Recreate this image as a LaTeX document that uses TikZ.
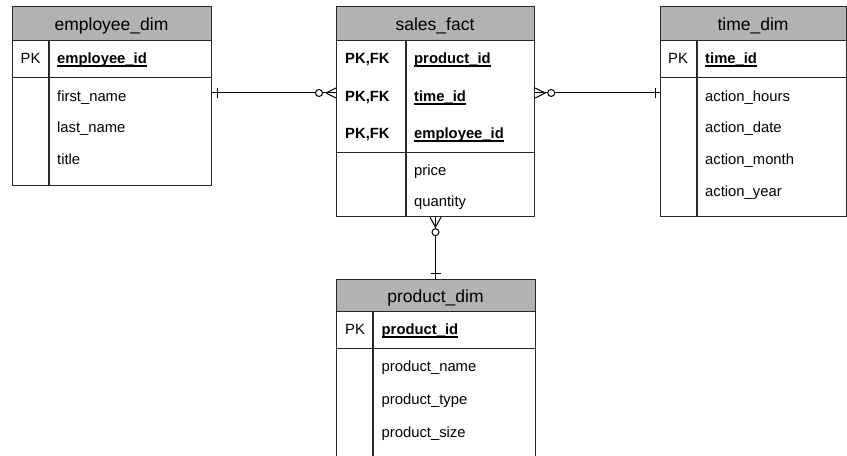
\documentclass[tikz,border=0pt]{standalone}
\usepackage{fontspec}
\setmainfont{Liberation Sans}
\usetikzlibrary{calc}
\definecolor{hdrgray}{RGB}{178,178,178}
\definecolor{edgecol}{RGB}{40,40,40}
% bold key field with an underline that merges with the underscore
\newcommand{\keyfield}[1]{\setbox0\hbox{\bfseries #1}\rlap{\rule[-2.6bp]{\wd0}{1.1bp}}\box0}
\begin{document}
\begin{tikzpicture}[x=1bp,y=-1bp,
  box/.style={draw=edgecol, line width=1.2bp, rectangle, inner sep=0pt, anchor=north west},
  hdr/.style={box, fill=hdrgray},
  divider/.style={draw=edgecol, line width=1.2bp},
  title/.style={anchor=base, inner sep=0pt, font=\fontsize{17.5bp}{21bp}\selectfont},
  fld/.style={anchor=base west, inner sep=0pt, font=\fontsize{14.8bp}{18bp}\selectfont},
  keyfld/.style={fld, font=\fontsize{14.8bp}{18bp}\selectfont\bfseries},
  rel/.style={draw=black, line width=1bp},
  relcirc/.style={rel, fill=white},
]
\useasboundingbox (0,0) rectangle (847,456);

% ---------- employee_dim ----------
\node[hdr, minimum width=199bp, minimum height=34bp] (emph) at (12,6) {};
\node[box, minimum width=199bp, minimum height=37bp] (empk) at (12,40) {};
\node[box, minimum width=199bp, minimum height=108bp] (empa) at (12,77) {};
\draw[divider] (49,40) -- (49,185);
\node[title] (empt) at (111.5,31) {employee\_dim};
\node[fld] (emppk) at (20.5,64) {PK};
\node[fld] (empid) at (57,64) {\keyfield{employee\_id}};
\node[fld] (empfn) at (57,102) {first\_name};
\node[fld] (empln) at (57,133) {last\_name};
\node[fld] (empti) at (57,165) {title};

% ---------- sales_fact ----------
\node[hdr, minimum width=198bp, minimum height=34bp] (salh) at (336,6) {};
\node[box, minimum width=198bp, minimum height=112bp] (salk) at (336,40) {};
\node[box, minimum width=198bp, minimum height=64bp] (sala) at (336,152) {};
\draw[divider] (406,40) -- (406,216);
\node[title] (salt) at (435,31) {sales\_fact};
\node[keyfld] (salpk1) at (345,64) {PK,FK};
\node[keyfld] (salpk2) at (345,102) {PK,FK};
\node[keyfld] (salpk3) at (345,139) {PK,FK};
\node[fld] (salprod) at (414,64) {\keyfield{product\_id}};
\node[fld] (saltime) at (414,102) {\keyfield{time\_id}};
\node[fld] (salemp) at (414,139) {\keyfield{employee\_id}};
\node[fld] (salprice) at (414,176) {price};
\node[fld] (salqty) at (414,207) {quantity};

% ---------- time_dim ----------
\node[hdr, minimum width=186bp, minimum height=34bp] (timh) at (660,6) {};
\node[box, minimum width=186bp, minimum height=37bp] (timk) at (660,40) {};
\node[box, minimum width=186bp, minimum height=139bp] (tima) at (660,77) {};
\draw[divider] (697,40) -- (697,216);
\node[title] (timt) at (753,31) {time\_dim};
\node[fld] (timpk) at (668,64) {PK};
\node[fld] (timid) at (705,64) {\keyfield{time\_id}};
\node[fld] (timh1) at (705,102) {action\_hours};
\node[fld] (timd1) at (705,133) {action\_date};
\node[fld] (timm1) at (705,165) {action\_month};
\node[fld] (timy1) at (705,197) {action\_year};

% ---------- product_dim ----------
\node[hdr, minimum width=199bp, minimum height=32bp] (proh) at (336,279) {};
\node[box, minimum width=199bp, minimum height=37bp] (prok) at (336,311) {};
\node[box, minimum width=199bp, minimum height=130bp] (proa) at (336,348) {};
\draw[divider] (373,311) -- (373,478);
\node[title] (prot) at (435.5,302.5) {product\_dim};
\node[fld] (propk) at (345,335) {PK};
\node[fld] (proid) at (381.5,335) {\keyfield{product\_id}};
\node[fld] (pronm) at (381.5,372) {product\_name};
\node[fld] (proty) at (381.5,404) {product\_type};
\node[fld] (prosz) at (381.5,437) {product\_size};

% ---------- relationships ----------
\coordinate (row) at (0,93);
\coordinate (col) at (435.5,0);

% employee_dim (one) -- sales_fact (zero or many)
\coordinate (ea) at (empa.east |- row);
\coordinate (sw) at (salk.west |- row);
\draw[rel] (ea) -- (sw);
\draw[rel] ($(ea)+(5,-5)$) -- ($(ea)+(5,5)$);
\draw[rel] ($(sw)+(-10,0)$) -- ($(sw)+(0,-5)$);
\draw[rel] ($(sw)+(-10,0)$) -- ($(sw)+(0,5)$);
\draw[relcirc] ($(sw)+(-17,0)$) circle (3.5bp);

% sales_fact (zero or many) -- time_dim (one)
\coordinate (se) at (salk.east |- row);
\coordinate (tw) at (tima.west |- row);
\draw[rel] (se) -- (tw);
\draw[rel] ($(se)+(10,0)$) -- ($(se)+(0,-5)$);
\draw[rel] ($(se)+(10,0)$) -- ($(se)+(0,5)$);
\draw[relcirc] ($(se)+(16,0)$) circle (3.5bp);
\draw[rel] ($(tw)+(-5,-5)$) -- ($(tw)+(-5,5)$);

% sales_fact (zero or many) -- product_dim (one)
\coordinate (ss) at (sala.south -| col);
\coordinate (pn) at (proh.north -| col);
\draw[rel] (ss) -- (pn);
\draw[rel] ($(ss)+(0,10)$) -- ($(ss)+(-5.5,0)$);
\draw[rel] ($(ss)+(0,10)$) -- ($(ss)+(5.5,0)$);
\draw[relcirc] ($(ss)+(0,15)$) circle (3.5bp);
\draw[rel] ($(pn)+(-5,-5)$) -- ($(pn)+(5,-5)$);
\end{tikzpicture}
\end{document}
